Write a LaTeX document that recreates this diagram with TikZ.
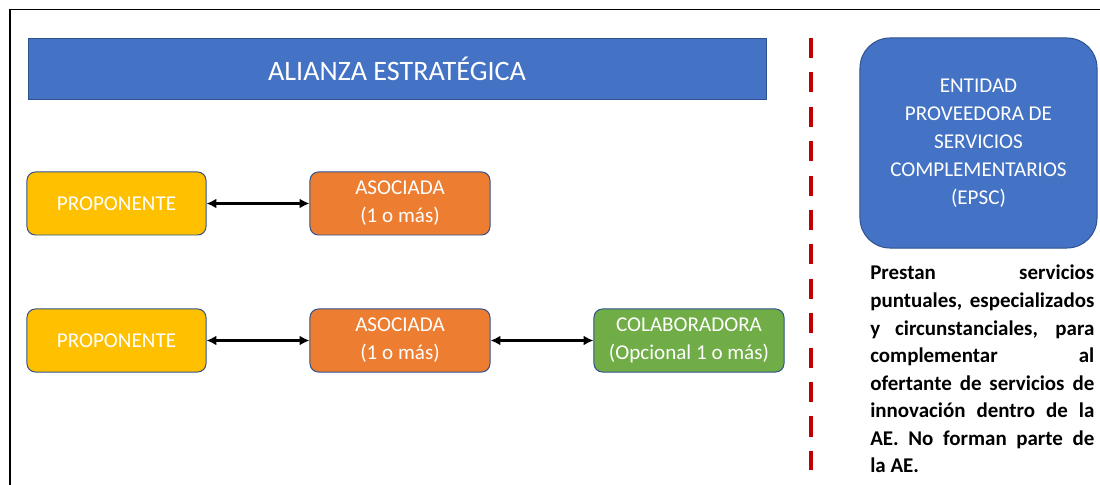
\documentclass[tikz,border=0pt]{standalone}
\usepackage{fontspec}
\setmainfont{Carlito}
\usetikzlibrary{arrows.meta}

\definecolor{aeblue}{HTML}{4472C4}
\definecolor{aeline}{HTML}{2F528F}
\definecolor{aeyellow}{HTML}{FFC000}
\definecolor{aeorange}{HTML}{ED7D31}
\definecolor{aegreen}{HTML}{70AD47}
\definecolor{aered}{HTML}{C00000}

\tikzset{
  aebox/.style={draw=aeline, line width=0.7pt, rounded corners=6pt, text=white,
    align=center, minimum height=1.575cm, font=\fontsize{15}{20}\selectfont},
  aelink/.style={{Latex[length=7pt,width=7pt]}-{Latex[length=7pt,width=7pt]}, line width=2pt},
}

\begin{document}
\begin{tikzpicture}[x=0.025cm, y=-0.025cm]
	\useasboundingbox (0,0) rectangle (1100,485);
\draw[line width=1pt] (10,485) |- (1100,9.5);
\node[draw=aeline, fill=aeblue, text=white, minimum width=18.45cm,
  minimum height=1.525cm, font=\fontsize{20}{24}\selectfont] (title)
  at (397,68.5) {ALIANZA ESTRATÉGICA};
\node[aebox, fill=aeyellow, minimum width=4.475cm] (prop1) at (116.5,203.5) {PROPONENTE};
\node[aebox, fill=aeorange, minimum width=4.5cm] (asoc1) at (400,203.5) {ASOCIADA\\(1 o más)};
\node[aebox, fill=aeyellow, minimum width=4.475cm] (prop2) at (116.5,340.5) {PROPONENTE};
\node[aebox, fill=aeorange, minimum width=4.5cm] (asoc2) at (400,340.5) {ASOCIADA\\(1 o más)};
\node[aebox, fill=aegreen, minimum width=4.75cm] (colab) at (689,340.5) {COLABORADORA\\(Opcional 1 o más)};
\draw[aelink] (prop1) -- (asoc1);
\draw[aelink] (prop2) -- (asoc2);
\draw[aelink] (asoc2) -- (colab);
\coordinate (sepa) at (811,38);
\coordinate (sepb) at (811,470);
\draw[aered, line width=2.8pt, dash pattern=on 0.5cm off 0.36cm] (sepa) -- (sepb);
\node[aebox, fill=aeblue, minimum width=5.925cm, minimum height=5.25cm,
  rounded corners=0.75cm] (epsc) at (978.5,143)
  {ENTIDAD\\PROVEEDORA DE\\SERVICIOS\\COMPLEMENTARIOS\\(EPSC)};
\node[anchor=north west, inner sep=0pt, text width=5.6cm, align=justify,
  font=\bfseries\fontsize{14.9}{19.6}\selectfont] (note) at (870,265)
  {\hyphenpenalty=10000 Prestan servicios\linebreak puntuales, especializados\linebreak
   y circunstanciales, para\linebreak complementar al\linebreak
   ofertante de servicios de\linebreak innovación dentro de la\linebreak
   AE. No forman parte de\linebreak la AE.};
\end{tikzpicture}
\end{document}
